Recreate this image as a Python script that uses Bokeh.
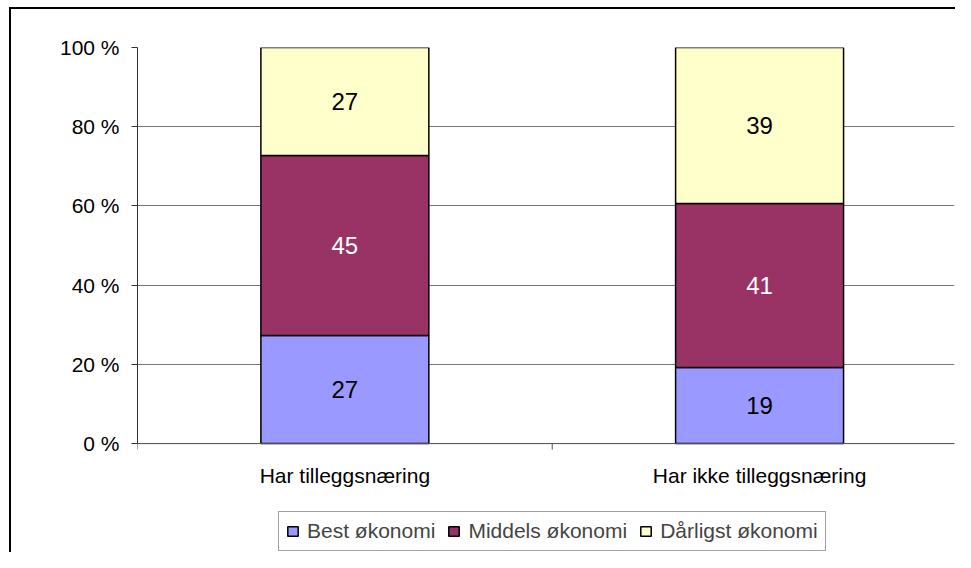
import math
from bokeh.plotting import figure
from bokeh.models import ColumnDataSource, Range1d, FixedTicker, Legend, LegendItem, Span
from bokeh.embed import file_html
from bokeh.resources import INLINE
from bokeh.core.properties import value

categories = ["Har tilleggsnæring", "Har ikke tilleggsnæring"]
best = [27, 19]
middels = [45, 41]
darligst = [27, 39]
series_names = ["Best økonomi", "Middels økonomi", "Dårligst økonomi"]
colors = ["#9999FF", "#993366", "#FFFFCC"]
label_colors = ["black", "white", "black"]
y_ticks = [0, 20, 40, 60, 80, 100]

FONT = "Liberation Sans"
xpos = [0.5 + i for i in range(len(categories))]
boundaries = [0, 1, 2]
totals = [a + b + c for a, b, c in zip(best, middels, darligst)]

# the frame also holds the category labels and the legend below the value axis
p = figure(width=955, height=552, x_range=Range1d(0, 1.97), y_range=Range1d(-27.5, 100),
           output_backend="svg", toolbar_location=None, x_axis_location=None,
           min_border_left=137, min_border_right=1, min_border_top=47, min_border_bottom=0)
p.styles = {"background": "linear-gradient(#000,#000) 9px 7px / 2px 3000px no-repeat, "
                          "linear-gradient(#000,#000) 9px 7px / 3000px 2px no-repeat, #fff"}
p.background_fill_color = "white"
p.border_fill_alpha = 0
p.outline_line_color = None

p.xgrid.visible = False
p.ygrid.grid_line_color = "#777777"
p.ygrid.grid_line_width = 1
p.ygrid.ticker = FixedTicker(ticks=y_ticks)

renderers = []
bottoms = [0.0] * len(categories)
for name, vals, col, lc in zip(series_names, [best, middels, darligst], colors, label_colors):
    shares = [v / t * 100 for v, t in zip(vals, totals)]
    tops = [b + s for b, s in zip(bottoms, shares)]
    mids = [(b + t) / 2 for b, t in zip(bottoms, tops)]
    src = ColumnDataSource(dict(x=xpos, bottom=bottoms, top=tops, mid=mids,
                                lab=[str(v) for v in vals]))
    r = p.vbar(x="x", bottom="bottom", top="top", width=0.405, source=src,
               fill_color=col, line_color="black", line_width=1.5)
    p.text(x="x", y="mid", text="lab", source=src, text_align="center",
           text_baseline="middle", text_font=value(FONT), text_font_size="24px",
           text_color=lc)
    renderers.append((name, r))
    bottoms = tops

# category axis (line, boundary ticks, labels)
p.add_layout(Span(location=0, dimension="width", line_color="#555555", line_width=1))
p.ray(x=boundaries, y=[0] * len(boundaries), length=6, length_units="screen",
      angle=-math.pi / 2, line_color="#555555", line_width=1)
p.text(x=xpos, y=[0] * len(xpos), text=categories, text_align="center",
       text_baseline="top", y_offset=20, text_font=value(FONT),
       text_font_size="21px", text_color="black")

ya = p.yaxis[0]
ya.ticker = FixedTicker(ticks=y_ticks)
ya.bounds = (0, 100)
ya.major_label_overrides = {t: f"{t} %" for t in y_ticks}
ya.major_label_text_font = FONT
ya.major_label_text_font_size = "21px"
ya.major_label_text_color = "black"
ya.axis_line_color = "#333333"
ya.major_tick_line_color = "#333333"
ya.major_tick_out = 6
ya.major_tick_in = 0
ya.minor_tick_line_color = None
ya.major_label_standoff = 12

legend = Legend(items=[LegendItem(label=n, renderers=[r]) for n, r in renderers],
                orientation="horizontal", location=(141, 1), margin=0,
                label_text_font=FONT, label_text_font_size="21px",
                glyph_width=13, glyph_height=12, label_standoff=8, spacing=12,
                padding=7, border_line_color="#444444", border_line_width=1,
                background_fill_color="white", background_fill_alpha=1)
p.add_layout(legend, "center")

open("out.html", "w").write(file_html(p, INLINE))
